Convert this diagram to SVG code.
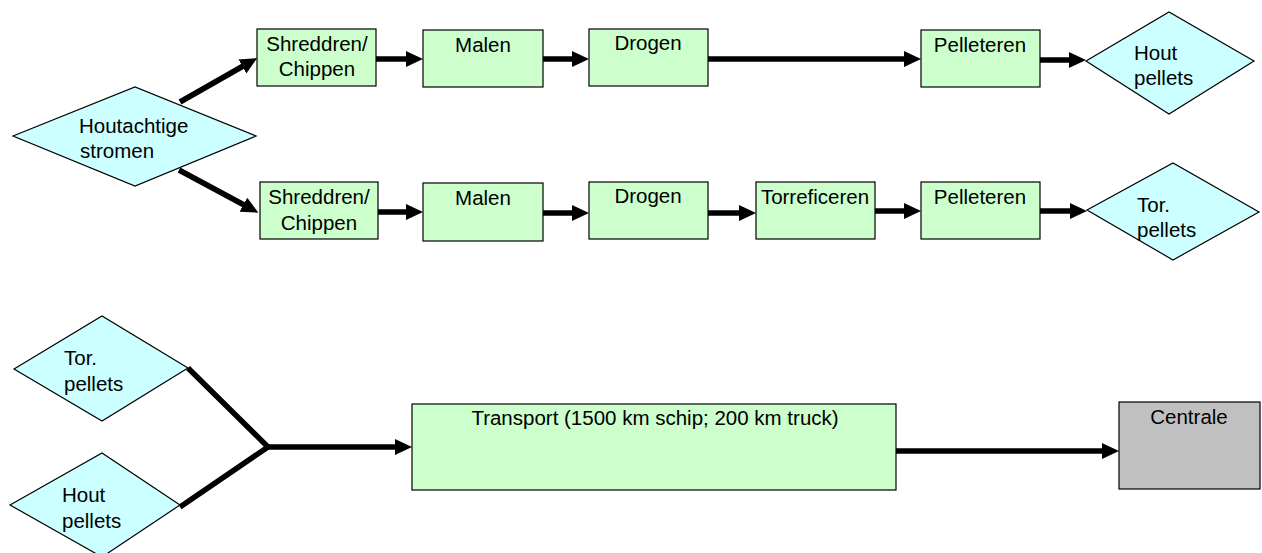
<svg xmlns="http://www.w3.org/2000/svg" width="1262" height="553" viewBox="0 0 1262 553">
<style>
.box{fill:#CCFFCC;stroke:#000;stroke-width:1.2}
.dia{fill:#CCFFFF;stroke:#000;stroke-width:1.2}
.gray{fill:#C0C0C0;stroke:#000;stroke-width:1.2}
text{font-family:"Liberation Sans",Arial,sans-serif;font-size:20.5px;fill:#000}
.c{text-anchor:middle}
.con{fill:none;stroke:#000;stroke-width:5.5}
</style>
<defs>
<marker id="ah" markerUnits="userSpaceOnUse" markerWidth="19" markerHeight="17" refX="3" refY="8" orient="auto">
<path d="M0,0 L17,8 L0,16 Z" fill="#000"/>
</marker>
</defs>
<g id="connectors">
<path class="con" d="M180,102 L245,65" marker-end="url(#ah)"/>
<path class="con" d="M179,170 L246,206" marker-end="url(#ah)"/>
<path class="con" d="M376,59 L409,59" marker-end="url(#ah)"/>
<path class="con" d="M543,59 L575,59" marker-end="url(#ah)"/>
<path class="con" d="M708,59 L907,59" marker-end="url(#ah)"/>
<path class="con" d="M1040,60 L1072,60" marker-end="url(#ah)"/>
<path class="con" d="M378,212 L409,212" marker-end="url(#ah)"/>
<path class="con" d="M543,213 L575,213" marker-end="url(#ah)"/>
<path class="con" d="M708,213 L742,213" marker-end="url(#ah)"/>
<path class="con" d="M875,211 L907,211" marker-end="url(#ah)"/>
<path class="con" d="M1040,211 L1073,211" marker-end="url(#ah)"/>
<path class="con" d="M188,368 L268,447 M180,507 L268,447"/>
<path class="con" d="M268,447 L398,447" marker-end="url(#ah)"/>
<path class="con" d="M896,451 L1105,451" marker-end="url(#ah)"/>
</g>
<g id="houtachtige">
<polygon class="dia" points="13,136 135,87 256,136 135,186"/>
<text x="79" y="133">Houtachtige</text>
<text x="80" y="158">stromen</text>
</g>
<g id="shred1">
<rect class="box" x="257" y="29" width="119" height="57"/>
<text class="c" x="317" y="51">Shreddren/</text>
<text class="c" x="317" y="76">Chippen</text>
</g>
<g id="malen1">
<rect class="box" x="423" y="30" width="120" height="57"/>
<text class="c" x="483" y="52">Malen</text>
</g>
<g id="drogen1">
<rect class="box" x="589" y="29" width="119" height="57"/>
<text class="c" x="648" y="50">Drogen</text>
</g>
<g id="pellet1">
<rect class="box" x="921" y="30" width="119" height="57"/>
<text class="c" x="980" y="52">Pelleteren</text>
</g>
<g id="houtpellets1">
<polygon class="dia" points="1086,61 1169,12 1254,61 1169,114"/>
<text x="1134" y="60">Hout</text>
<text x="1134" y="85">pellets</text>
</g>
<g id="shred2">
<rect class="box" x="260" y="182" width="118" height="57"/>
<text class="c" x="319" y="204">Shreddren/</text>
<text class="c" x="319" y="230">Chippen</text>
</g>
<g id="malen2">
<rect class="box" x="423" y="183" width="120" height="58"/>
<text class="c" x="483" y="205">Malen</text>
</g>
<g id="drogen2">
<rect class="box" x="589" y="182" width="119" height="57"/>
<text class="c" x="648" y="203">Drogen</text>
</g>
<g id="torref">
<rect class="box" x="756" y="182" width="119" height="57"/>
<text class="c" x="815" y="204">Torreficeren</text>
</g>
<g id="pellet2">
<rect class="box" x="921" y="182" width="119" height="57"/>
<text class="c" x="980" y="204">Pelleteren</text>
</g>
<g id="torpellets1">
<polygon class="dia" points="1087,210 1173,163 1259,212 1173,260"/>
<text x="1137" y="212">Tor.</text>
<text x="1137" y="237">pellets</text>
</g>
<g id="torpellets2">
<polygon class="dia" points="14,369 102,316 188,368 102,421"/>
<text x="64" y="365">Tor.</text>
<text x="64" y="391">pellets</text>
</g>
<g id="houtpellets2">
<polygon class="dia" points="10,505 102,453 180,505 102,557"/>
<text x="62" y="502">Hout</text>
<text x="62" y="528">pellets</text>
</g>
<g id="transport">
<rect class="box" x="412" y="404" width="484" height="86"/>
<text class="c" x="655" y="425">Transport (1500 km schip; 200 km truck)</text>
</g>
<g id="centrale">
<rect class="gray" x="1119" y="402" width="141" height="87"/>
<text class="c" x="1189" y="424">Centrale</text>
</g>
</svg>
